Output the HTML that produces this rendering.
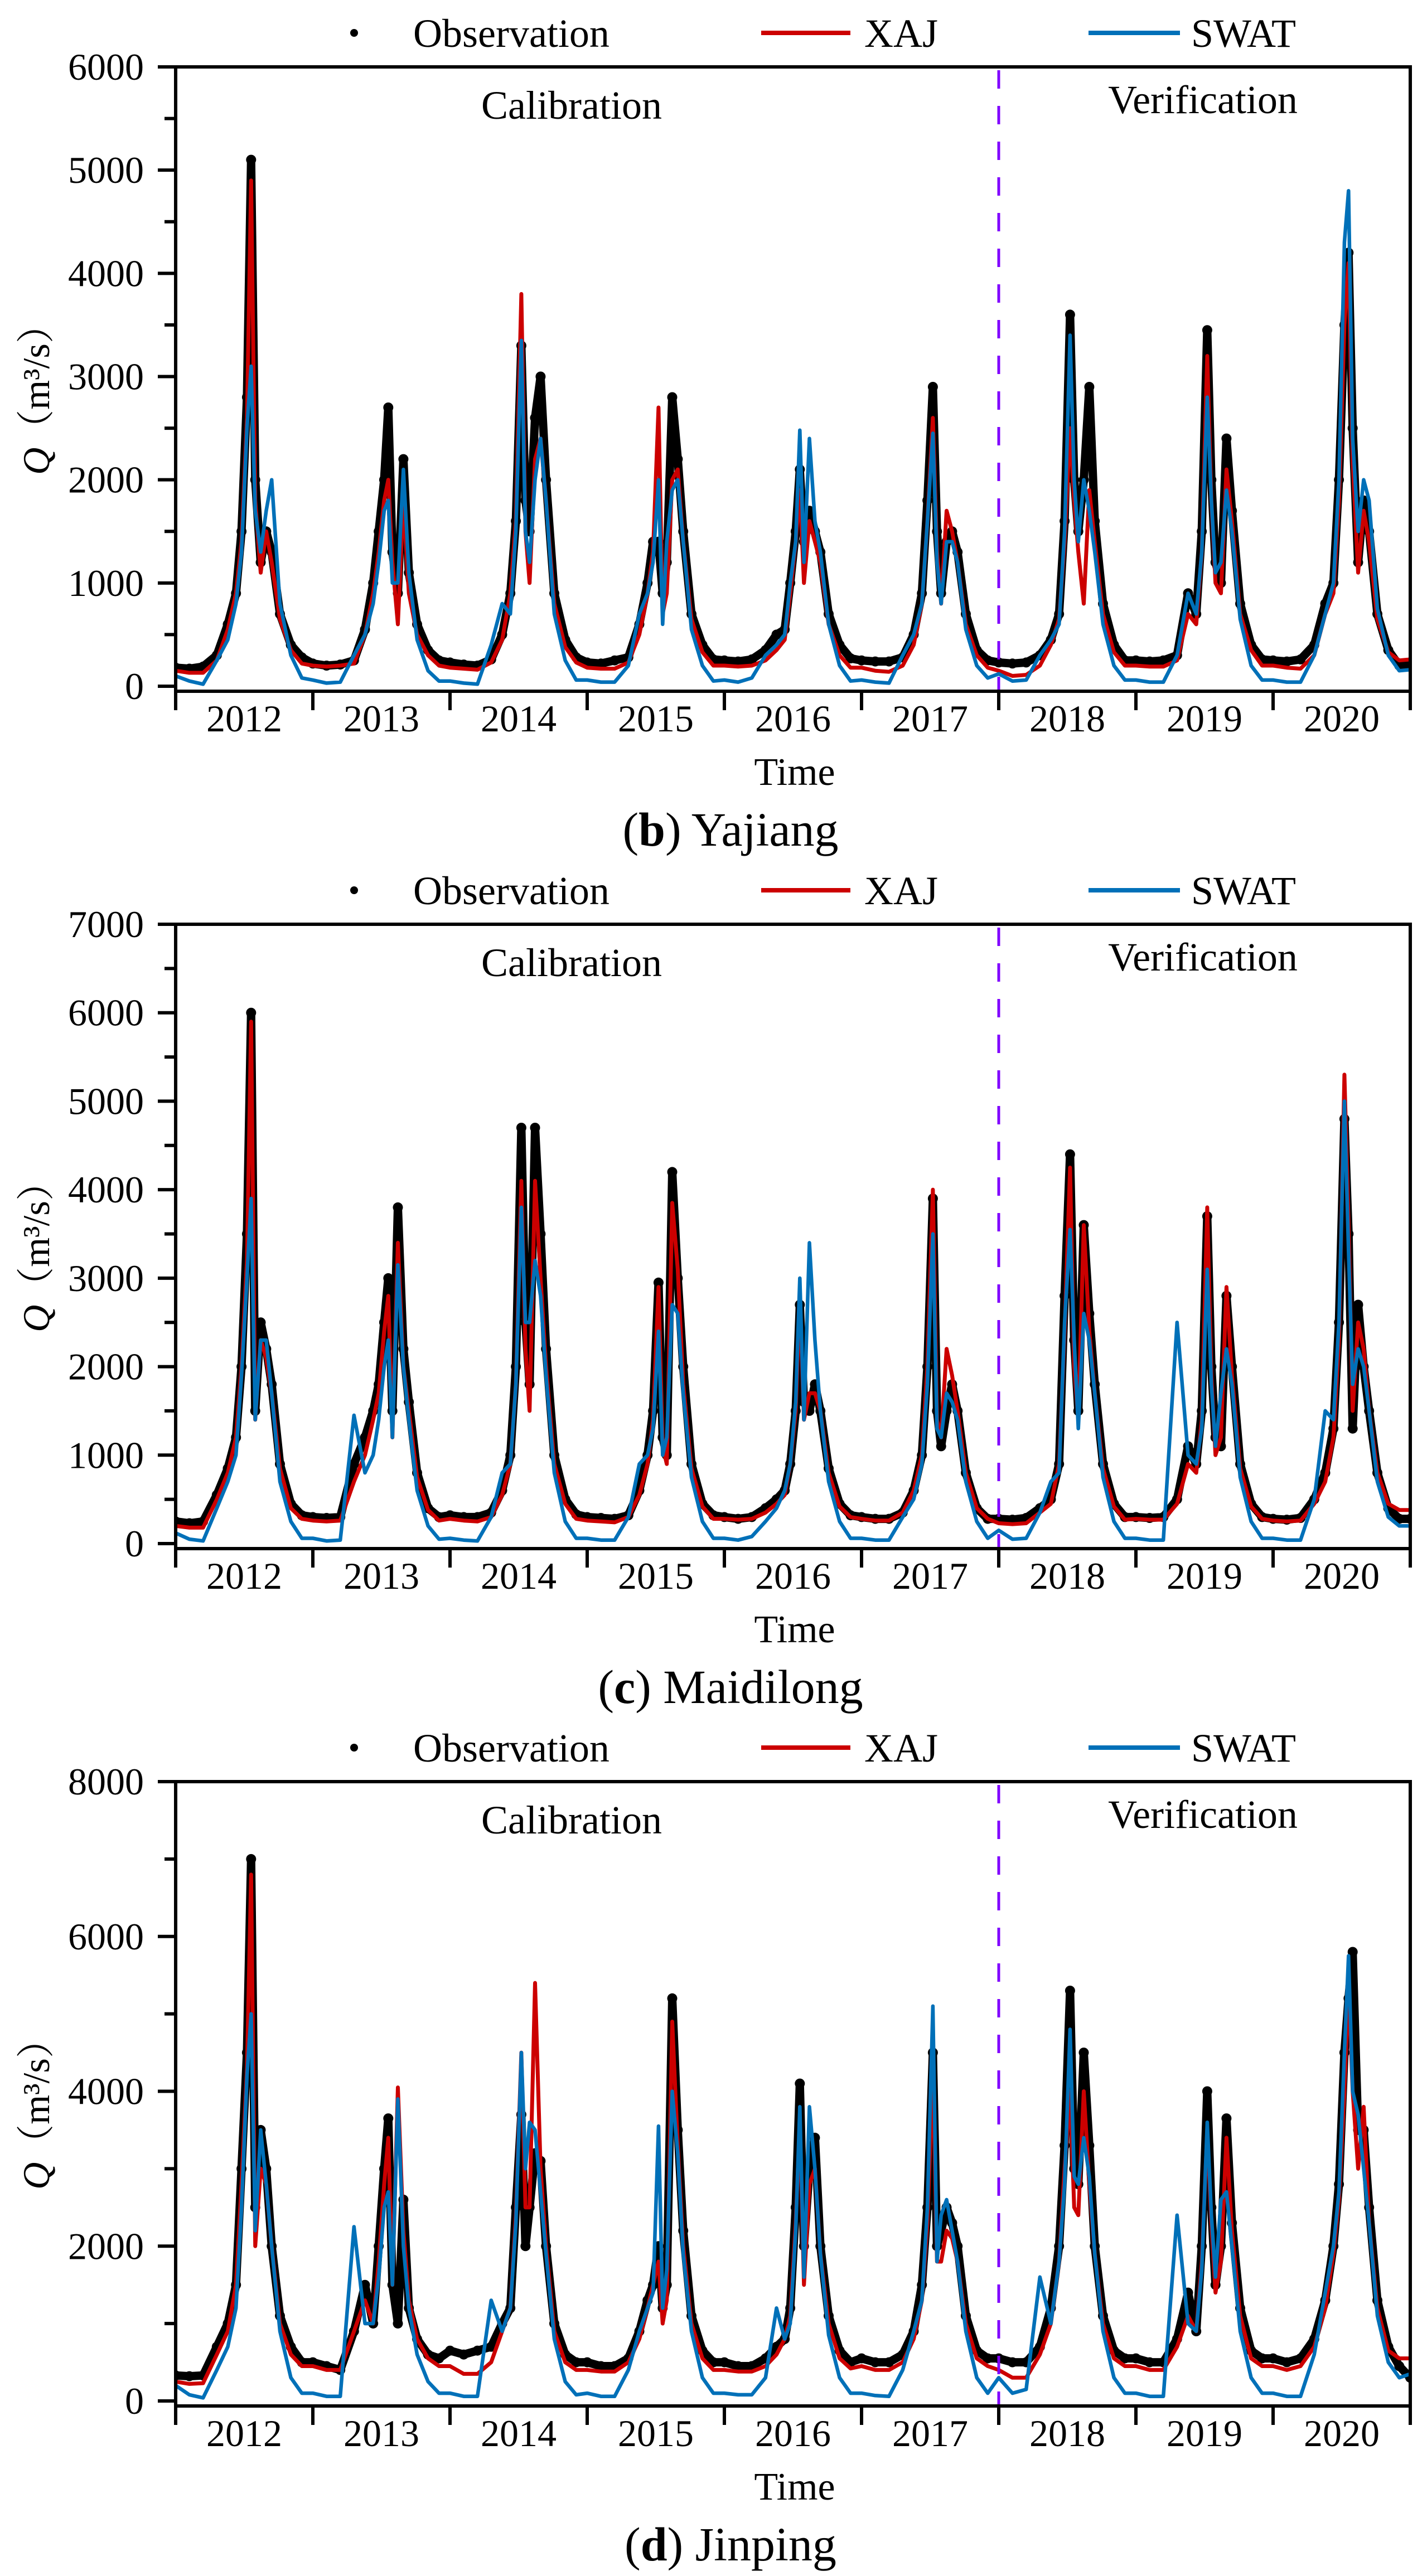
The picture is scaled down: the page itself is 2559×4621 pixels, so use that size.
<!DOCTYPE html>
<html><head><meta charset="utf-8"><style>
html,body{margin:0;padding:0;background:#fff}
svg{display:block}
text{font-family:"Liberation Serif","Noto Serif CJK SC",serif;fill:#000}
</style></head><body>
<svg id="fig" xmlns="http://www.w3.org/2000/svg" width="2559" height="4621" viewBox="0 0 2559 4621"></svg>
<script>
// ---- data ----
const years = ["2012","2013","2014","2015","2016","2017","2018","2019","2020"];
const yearFrac = [0,0.1,0.2,0.3,0.38,0.44,0.48,0.52,0.55,0.58,0.62,0.66,0.7,0.76,0.84,0.92];
const panelNames = ["b","c","d"];
const panelStations = ["Yajiang","Maidilong","Jinping"];
const panelMax = [6000,7000,8000];
const yTicksB = [0,1000,2000,3000,4000,5000,6000];
const yTicksC = [0,1000,2000,3000,4000,5000,6000,7000];
const yTicksD = [0,2000,4000,6000,8000];

const b_obs = [180,170,190,300,600,900,1500,2800,5100,2000,1200,1500,1300,700,400,280,
220,200,210,250,550,1000,1500,2000,2700,1300,900,2200,1100,600,350,250,
230,210,200,260,500,900,1600,3300,1800,1500,2600,3000,2000,900,450,280,
230,220,250,280,600,1000,1400,1400,900,1200,2800,2200,1500,700,400,260,
250,240,260,350,500,550,1000,1500,2100,1400,1700,1500,1300,700,400,270,
250,240,240,280,500,900,1800,2900,1500,900,1400,1500,1300,700,350,250,
230,220,230,300,450,700,1600,3600,2000,1500,2000,2900,1600,800,400,250,
250,240,250,300,900,700,1500,3450,2000,1200,1000,2400,1700,800,400,260,
250,240,260,400,800,1000,2000,3500,4200,2500,1200,1800,1500,700,350,200,200];
const b_xaj = [150,130,130,250,550,900,1400,2600,4900,1800,1100,1500,1200,650,350,220,
200,190,200,220,500,900,1300,1800,2000,1200,600,1800,900,500,300,200,
180,170,160,230,450,900,1600,3800,1500,1000,2200,2400,1800,800,380,230,
180,170,170,230,500,900,1300,2700,700,900,2000,2100,1400,650,330,200,
200,190,200,250,350,450,900,1400,1900,1000,1600,1400,1200,600,300,180,
180,150,140,200,400,800,1600,2600,1300,800,1700,1500,1200,600,300,180,
150,100,110,200,400,650,1400,2500,1800,1300,800,1900,1400,700,330,200,
200,190,190,250,700,600,1300,3200,1800,1000,900,2100,1600,700,350,200,
200,180,170,300,700,900,1800,3500,4100,2200,1100,1700,1400,650,330,250,260];
const b_swat = [100,50,20,250,450,800,1300,2500,3100,1700,1300,1700,2000,800,300,80,
60,30,40,300,500,800,1200,1700,1800,1000,1000,2100,1100,450,150,50,
50,30,20,400,800,700,1500,3350,1500,1200,2000,2400,1800,700,250,60,
60,40,40,200,700,900,1200,2000,600,1400,1900,2000,1400,550,200,50,
60,40,80,300,400,500,1000,1400,2480,1200,2400,1600,1300,600,200,50,
60,40,30,300,500,800,1600,2450,1200,800,1400,1400,1200,550,200,80,
120,50,60,300,450,600,1500,3400,2000,1400,2000,1700,1300,600,200,60,
60,40,40,300,900,700,1300,2800,1800,1100,1200,1900,1500,650,200,60,
60,40,40,300,700,1000,2000,4300,4800,2400,1500,2000,1800,750,300,150,160];

const c_obs = [250,230,250,550,850,1200,2000,3500,6000,1500,2500,2200,1800,900,450,320,
300,290,300,900,1200,1500,1800,2500,3000,1500,3800,2200,1600,800,400,300,
320,300,300,350,600,1000,2000,4700,2500,1800,4700,3500,2200,1000,500,330,
300,290,280,320,600,1000,1500,2950,1200,1000,4200,3000,2000,900,450,320,
300,280,300,400,500,600,900,1500,2700,1600,1500,1800,1500,850,450,320,
300,280,280,350,600,1000,2000,3900,1500,1100,1500,1800,1500,800,400,280,
280,270,290,400,500,900,2800,4400,2300,1500,3600,2600,1800,900,450,300,
300,290,300,500,1100,900,1500,3700,2000,1200,1100,2800,2000,900,450,300,
280,270,290,500,800,1300,2500,4800,3500,1300,2700,2000,1500,800,400,280,280];
const c_xaj = [200,180,180,500,800,1200,2000,3200,5900,1400,2300,2100,1700,850,400,280,
260,250,260,700,1000,1400,1700,2400,2800,1200,3400,2000,1500,750,380,260,
280,260,250,300,550,900,1800,4100,2200,1500,4100,3000,2000,900,450,280,
260,250,240,300,550,900,1400,2900,1100,900,3850,3100,1800,850,420,280,
280,270,280,350,450,550,900,1500,2800,1400,1700,1700,1500,800,420,300,
280,260,260,350,600,1000,2000,4000,1400,1200,2200,1900,1500,800,400,280,
230,220,230,350,450,900,2400,4250,2000,1400,3600,2400,1700,850,420,270,
280,270,270,450,900,800,1400,3800,1900,1000,1200,2900,1900,850,420,280,
260,250,260,450,700,1200,2300,5300,3600,1500,2500,2200,1500,800,450,380,380];
const c_swat = [120,50,30,400,700,1000,1900,3000,3900,1400,2300,2300,1700,700,250,60,
60,30,40,1450,800,1000,1400,2000,2300,1200,3150,2000,1400,600,200,50,
60,40,30,300,800,900,1800,3800,2500,2500,3200,2800,1900,800,250,60,
60,40,40,300,900,1000,1300,2400,1000,1200,2700,2600,1700,750,250,60,
60,40,80,250,400,600,900,1600,3000,1400,3400,2300,1500,700,250,60,
60,40,40,300,500,900,1800,3500,1300,1200,1700,1600,1400,700,250,60,
150,50,60,350,700,800,2500,3550,2300,1300,2600,2300,1700,750,250,60,
60,40,40,2500,1000,900,1300,3100,1800,1100,1700,2200,1800,750,250,60,
60,40,40,500,1500,1400,2500,5000,3300,1800,2200,2000,1500,700,300,200,200];

const d_obs = [330,320,330,700,1000,1500,3000,4500,7000,2500,3500,3000,2000,1100,700,500,
500,450,400,900,1500,1000,2000,3000,3650,1500,1000,2600,1200,800,600,550,
650,600,650,700,1000,1200,2500,3700,2000,2500,3200,3100,2000,1000,600,500,
500,450,450,550,900,1300,1500,2000,1200,1500,5200,3500,2200,1100,650,500,
500,450,450,550,700,800,1200,2500,4100,2000,3000,3400,2000,1100,650,500,
550,500,500,600,900,1500,2500,4500,2000,2200,2500,2300,2000,1100,650,550,
550,500,500,700,1200,2000,3300,5300,3000,2800,4500,3300,2000,1100,650,550,
550,500,500,800,1400,900,2000,4000,2500,1500,2000,3650,2300,1200,650,550,
550,500,550,800,1300,2000,2800,4500,5200,5800,3500,3500,2500,1300,700,450,300];
const d_xaj = [250,220,230,600,900,1500,2800,4300,6800,2000,3000,2800,2000,1000,600,450,
450,400,400,900,1300,1000,1800,2800,3400,1500,4050,2200,1300,800,550,450,
450,350,350,500,900,1200,2400,4500,2500,2500,5400,3000,2000,900,500,400,
400,380,380,500,800,1200,1500,1800,1000,1300,4900,3300,2000,1000,550,400,
400,380,380,450,600,800,1100,2300,3600,1500,2800,3000,1900,1000,550,420,
450,400,400,500,800,1300,2300,4300,1800,1800,2200,2100,1800,1000,550,450,
400,300,300,600,1000,1800,3000,4000,2500,2400,4000,2800,1900,1000,550,450,
450,400,400,700,1100,900,1800,3500,2300,1400,1800,3400,2200,1100,550,450,
450,400,450,700,1200,1900,2600,4000,5400,4000,3000,3800,2300,1200,650,550,550];
const d_swat = [200,80,40,400,700,1200,2500,4200,5000,2200,3500,2800,2000,900,300,100,
100,60,60,2250,1000,1000,1600,2500,2700,1500,3900,2000,1200,600,250,100,
100,60,60,1300,900,1200,2300,4500,3000,3600,3500,2700,1900,800,250,80,
100,60,60,400,900,1200,1400,3550,1200,1700,4000,3200,1900,900,300,100,
100,80,80,300,1200,800,1000,2200,3800,1600,3800,3000,1900,850,300,100,
100,70,60,400,900,1300,2500,5100,1800,2400,2600,2200,1800,900,300,100,
300,100,150,1600,1000,1800,2800,4800,2900,2800,3400,2900,1900,900,300,100,
100,60,60,2400,1000,900,1700,3600,2400,1600,2600,2700,2000,900,300,100,
100,60,60,600,1400,2000,2700,4500,5750,4000,3700,3000,2300,1100,500,300,350];

const obsSeries = [b_obs,c_obs,d_obs];
const xajSeries = [b_xaj,c_xaj,d_xaj];
const swatSeries = [b_swat,c_swat,d_swat];
const yTickSets = [yTicksB,yTicksC,yTicksD];

// ---- layout ----
const NS = "http://www.w3.org/2000/svg";
const svg = document.getElementById("fig");
const L = 315, R = 2529;
const offsets = [0,1538,3076];
const RED = "#CC0000", BLUE = "#0070B8", PURPLE = "#8000FF";

const times = [];
years.forEach((y,i)=>yearFrac.forEach(f=>times.push(i+f)));
times.push(years.length);

function mk(tag, attrs, parent){
  const el = document.createElementNS(NS, tag);
  for (const k in attrs) el.setAttribute(k, attrs[k]);
  (parent||svg).appendChild(el);
  return el;
}
function xScale(t){ return L + t*(R-L)/years.length; }

panelNames.forEach((pn, p)=>{
  const off = offsets[p];
  const T = 120+off, B = 1240+off, Z = 1231+off;
  const ymax = panelMax[p];
  const yScale = v => Z - v*(Z-T)/ymax;
  const g = mk("g", {});
  
  

  // legend
  const lg = mk("g", {}, g);
  
  
  const ld = mk("circle", {cx:635, cy:59+off, r:7, fill:"#000"}, lg);
  
  
  const lt1 = mk("text", {x:741, y:84+off, "font-size":72}, lg);
  lt1.textContent = "Observation";
  
  
  const ll2 = mk("line", {x1:1365, x2:1525, y1:59+off, y2:59+off, stroke:RED, "stroke-width":8}, lg);
  
  
  const lt2 = mk("text", {x:1550, y:84+off, "font-size":72}, lg);
  lt2.textContent = "XAJ";
  
  
  const ll3 = mk("line", {x1:1952, x2:2116, y1:59+off, y2:59+off, stroke:BLUE, "stroke-width":8}, lg);
  
  
  const lt3 = mk("text", {x:2136, y:84+off, "font-size":72}, lg);
  lt3.textContent = "SWAT";
  
  

  // clip
  const cp = mk("clipPath", {id:"clip"+pn}, g);
  mk("rect", {x:L, y:T, width:R-L, height:B-T}, cp);

  // series
  const sg = mk("g", {"clip-path":"url(#clip"+pn+")"}, g);
  
  
  function pathFor(arr){ return arr.map((v,i)=>(i?"L":"M")+xScale(times[i]).toFixed(1)+","+yScale(v).toFixed(1)).join(""); }
  const obs = obsSeries[p];
  const op = mk("path", {d:pathFor(obs), fill:"none", stroke:"#000", "stroke-width":15, "stroke-linejoin":"round"}, sg);
  
  
  obs.forEach((v,i)=>{
    const c = mk("circle", {cx:xScale(times[i]).toFixed(1), cy:yScale(v).toFixed(1), r:9, fill:"#000"}, sg);
    
    
  });
  const xp = mk("path", {d:pathFor(xajSeries[p]), fill:"none", stroke:RED, "stroke-width":7, "stroke-linejoin":"round"}, sg);
  
  
  const sp = mk("path", {d:pathFor(swatSeries[p]), fill:"none", stroke:BLUE, "stroke-width":6.5, "stroke-linejoin":"round"}, sg);
  
  

  // divider
  const dv = mk("line", {x1:xScale(6), x2:xScale(6), y1:T+6, y2:B, stroke:PURPLE, "stroke-width":5, "stroke-dasharray":"33 31"}, g);
  
  

  // frame
  const fr = mk("rect", {x:L, y:T, width:R-L, height:B-T, fill:"none", stroke:"#000", "stroke-width":6}, g);
  
  

  // y ticks
  const ticks = yTickSets[p];
  const step = ticks[1]-ticks[0];
  ticks.forEach(v=>{
    const y = v===ymax ? T : yScale(v);
    const tk = mk("line", {x1:L-32, x2:L, y1:y, y2:y, stroke:"#000", "stroke-width":6}, g);
    
    
    const tl = mk("text", {x:258, y:y+23, "font-size":68, "text-anchor":"end"}, g);
    tl.textContent = String(v);
    
    
    if (v < ymax){
      const ym = yScale(v+step/2);
      const mt = mk("line", {x1:L-20, x2:L, y1:ym, y2:ym, stroke:"#000", "stroke-width":6}, g);
      
      
    }
  });
  // x ticks
  for (let i=0;i<=years.length;i++){
    const x = xScale(i);
    const xt = mk("line", {x1:x, x2:x, y1:B, y2:B+34, stroke:"#000", "stroke-width":6}, g);
    
    
  }
  years.forEach((yr,i)=>{
    const xl = mk("text", {x:xScale(i+0.5), y:1312+off, "font-size":68, "text-anchor":"middle"}, g);
    xl.textContent = yr;
    
    
  });

  // annotations
  const ca = mk("text", {x:1025, y:213+off, "font-size":72, "text-anchor":"middle"}, g);
  ca.textContent = "Calibration";
  
  
  const ve = mk("text", {x:2157, y:203+off, "font-size":72, "text-anchor":"middle"}, g);
  ve.textContent = "Verification";
  
  

  // axis titles
  const xt = mk("text", {x:1425, y:1408+off, "font-size":70, "text-anchor":"middle"}, g);
  xt.textContent = "Time";
  
  
  const yt = mk("text", {x:0, y:0, "font-size":68, "text-anchor":"middle", transform:"translate(88,"+(700+off)+") rotate(-90)"}, g);
  
  
  const q = mk("tspan", {"font-style":"italic"}, yt);
  q.textContent = "Q";
  const u = mk("tspan", {}, yt);
  u.textContent = "（m³/s）";

  // caption
  const cap = mk("text", {x:1310, y:1517+off, "font-size":86, "text-anchor":"middle"}, g);
  
  
  const c1 = mk("tspan", {}, cap); c1.textContent = "(";
  const c2 = mk("tspan", {"font-weight":"bold"}, cap); c2.textContent = pn;
  const c3 = mk("tspan", {}, cap); c3.textContent = ") " + panelStations[p];
});
</script>
</body></html>
